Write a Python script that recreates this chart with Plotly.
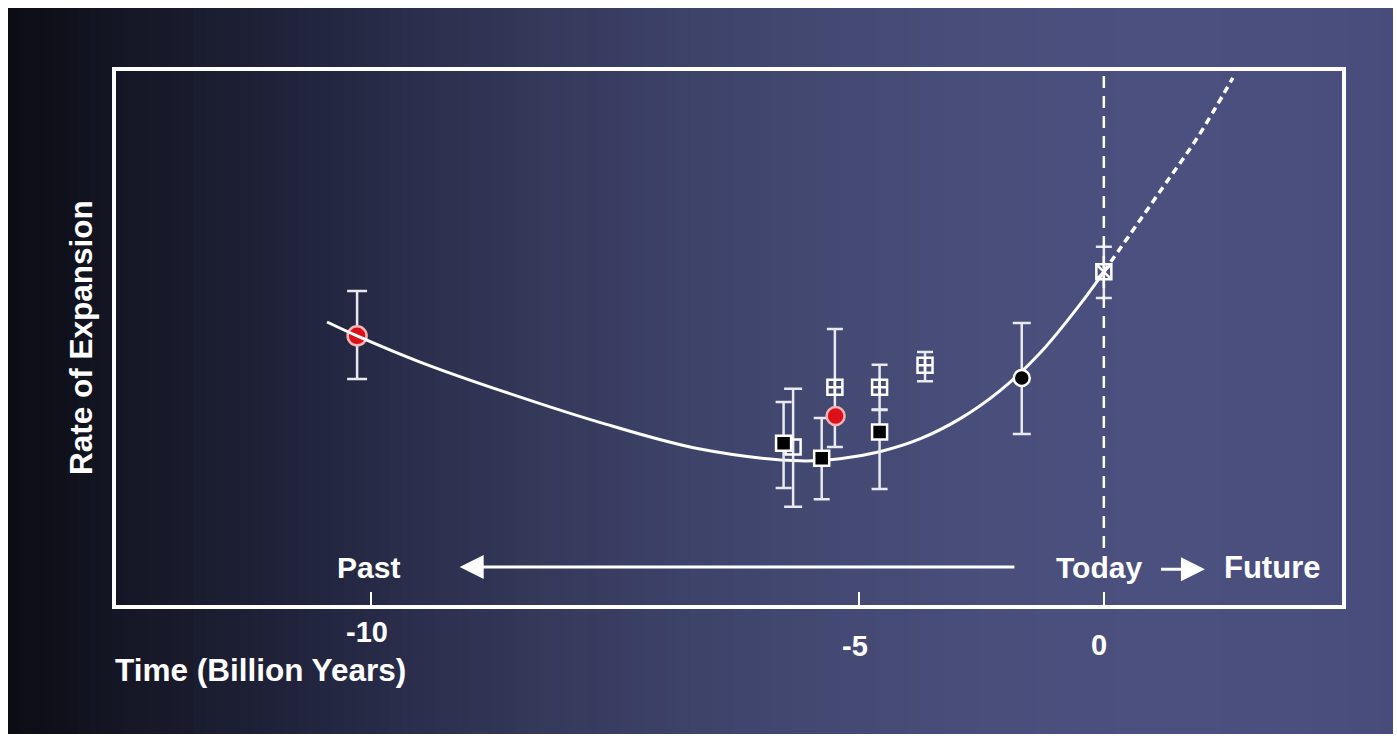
import plotly.graph_objects as go

# ---- data -------------------------------------------------------------
# Horizontal positions are given in the time axis' own units; the tick
# marks for -10, -5 and 0 Gyr sit at tick_pos.
tick_pos = [-10.0, -3.34, 0.0]
tick_text = ["-10", "-5", "0"]

# best-fit expansion history (solid) and its extrapolation into the future (dashed)
curve_t = [-10.60, -10.19, -9.33, -8.24, -6.88, -5.51, -4.15, -3.60, -3.06,
           -2.51, -1.96, -1.42, -0.87, -0.33, 0.0]
curve_rate = [5.30, 5.04, 4.55, 4.02, 3.42, 2.92, 2.70, 2.74, 2.87,
              3.11, 3.49, 4.01, 4.72, 5.62, 6.24]
future_t = [0.0, 0.80, 1.28, 1.76]
future_rate = [6.24, 7.81, 8.76, 9.87]

# measurements, grouped by marker style
red_t = [-10.19, -3.66]
red_rate = [5.04, 3.54]
red_err_hi = [0.84, None]
red_err_lo = [0.81, None]

open_t = [-4.24]
open_rate = [2.96]
open_err_hi = [1.09]
open_err_lo = [1.12]

cross_t = [-3.67, -3.06, -2.44]
cross_rate = [4.08, 4.08, 4.49]
cross_err_hi = [1.09, 0.42, 0.25]
cross_err_lo = [1.12, 0.42, 0.30]

black_sq_t = [-4.37, -3.85, -3.06]
black_sq_rate = [3.03, 2.75, 3.24]
black_sq_err_hi = [0.77, 0.75, 0.41]
black_sq_err_lo = [0.84, 0.77, 1.07]

black_circ_t = [-1.12]
black_circ_rate = [4.25]
black_circ_err_hi = [1.03]
black_circ_err_lo = [1.05]

today_t = [0.0]
today_rate = [6.24]
today_err_hi = [0.47]
today_err_lo = [0.49]

# ---- page geometry ----------------------------------------------------
W, H = 1397, 740
ML, MR, MT, MB = 116, 55, 71, 135
PW, PH = W - ML - MR, H - MT - MB


def px_x(px):
    return (px - ML) / PW


def px_y(py):
    return (H - MB - py) / PH


FONT = "Liberation Sans, Arial, Helvetica, sans-serif"
WHITE = "#ffffff"
BAR = "#e9e9f2"

fig = go.Figure()

# ---- background: dark-to-slate horizontal gradient ---------------------
grad_stops = [
    (0, (11, 12, 19)), (50, (14, 15, 24)), (116, (20, 22, 37)), (200, (26, 28, 47)),
    (300, (33, 36, 60)), (400, (42, 45, 74)), (550, (53, 57, 91)), (700, (62, 67, 106)),
    (850, (69, 74, 116)), (1000, (73, 78, 123)), (1150, (75, 80, 127)), (1300, (74, 79, 126)),
    (1397, (71, 76, 121)),
]


def grad_color(px):
    for (x0, c0), (x1, c1) in zip(grad_stops[:-1], grad_stops[1:]):
        if x0 <= px <= x1:
            f = (px - x0) / (x1 - x0)
            return "rgb(%d,%d,%d)" % tuple(round(a + (b - a) * f) for a, b in zip(c0, c1))
    return "rgb(%d,%d,%d)" % grad_stops[-1][1]


shapes = []
x_left, x_right, y_top, y_bot = 8, 1393, 8, 734
n_strips = 120
step = (x_right - x_left) / n_strips
for i in range(n_strips):
    a = x_left + i * step
    b = a + step + 0.8
    shapes.append(dict(
        type="rect", xref="paper", yref="paper", layer="below",
        x0=px_x(a), x1=px_x(min(b, x_right)), y0=px_y(y_bot), y1=px_y(y_top),
        fillcolor=grad_color(a + step / 2), line=dict(width=0),
    ))

# "today" marker line
shapes.append(dict(
    type="line", xref="x", yref="paper", x0=0, x1=0, y0=px_y(548), y1=1.0,
    line=dict(color=WHITE, width=2.5, dash="12px,8px"), layer="above",
))

# ---- traces ------------------------------------------------------------
def err(hi, lo, w=9):
    return dict(type="data", symmetric=False, array=hi, arrayminus=lo,
                color=BAR, thickness=2.5, width=w)


fig.add_trace(go.Scatter(
    x=red_t[:1], y=red_rate[:1], mode="markers",
    error_y=err(red_err_hi[:1], red_err_lo[:1], 10),
    marker=dict(symbol="circle", size=19, color="#dc1018", line=dict(color="#f2b4b4", width=2.5)),
))

fig.add_trace(go.Scatter(
    x=curve_t, y=curve_rate, mode="lines",
    line=dict(color=WHITE, width=3, shape="spline", smoothing=1.0),
))
fig.add_trace(go.Scatter(
    x=future_t, y=future_rate, mode="lines",
    line=dict(color=WHITE, width=3.5, shape="spline", smoothing=1.0, dash="7px,5px"),
))

fig.add_trace(go.Scatter(
    x=open_t, y=open_rate, mode="markers", error_y=err(open_err_hi, open_err_lo),
    marker=dict(symbol="square-open", size=15, color=WHITE, line=dict(color=WHITE, width=2.5)),
))
fig.add_trace(go.Scatter(
    x=cross_t, y=cross_rate, mode="markers", error_y=err(cross_err_hi, cross_err_lo, 8),
    marker=dict(symbol="square-cross-open", size=15, color=WHITE, line=dict(color=WHITE, width=2.5)),
))
fig.add_trace(go.Scatter(
    x=black_sq_t, y=black_sq_rate, mode="markers", error_y=err(black_sq_err_hi, black_sq_err_lo, 8),
    marker=dict(symbol="square", size=15, color="#000000", line=dict(color=WHITE, width=2.5)),
))
fig.add_trace(go.Scatter(
    x=black_circ_t, y=black_circ_rate, mode="markers", error_y=err(black_circ_err_hi, black_circ_err_lo),
    marker=dict(symbol="circle", size=16, color="#000000", line=dict(color=WHITE, width=2.5)),
))
fig.add_trace(go.Scatter(
    x=today_t, y=today_rate, mode="markers", error_y=err(today_err_hi, today_err_lo, 8),
    marker=dict(symbol="square-x-open", size=15, color=WHITE, line=dict(color=WHITE, width=2.5)),
))
fig.add_trace(go.Scatter(
    x=red_t[1:], y=red_rate[1:], mode="markers",
    marker=dict(symbol="circle", size=18, color="#dc1018", line=dict(color="#f2b4b4", width=2.5)),
))

# ---- text and arrows ----------------------------------------------------
def label(text, x, y, size=30, xref="x", yref="paper", xanchor="center", angle=0):
    return dict(text="<b>%s</b>" % text, x=x, y=y, xref=xref, yref=yref,
                xanchor=xanchor, yanchor="middle", showarrow=False, textangle=angle,
                font=dict(family=FONT, size=size, color=WHITE))


annotations = []
tick_label_y = [px_y(632), px_y(646), px_y(645)]
for pos, txt, ty in zip(tick_pos, tick_text, tick_label_y):
    annotations.append(label(txt, pos - 0.06, ty, size=29))

annotations.append(label("Time (Billion Years)", px_x(113), px_y(670), size=31.5,
                         xref="paper", xanchor="left"))
annotations.append(label("Rate of Expansion", px_x(81), px_y(338), size=31.5,
                         xref="paper", angle=-90))

annotations.append(label("Past", -10.03, px_y(567), size=30))
annotations.append(label("Today", -0.07, px_y(567), size=30))
annotations.append(label("Future", 2.29, px_y(567), size=31))

arrow_y = 0.71
annotations.append(dict(
    x=-8.79, y=arrow_y, ax=-1.20, ay=arrow_y, xref="x", yref="y", axref="x", ayref="y",
    text="", showarrow=True, arrowhead=2, arrowsize=1.6, arrowwidth=3, arrowcolor=WHITE,
))
annotations.append(dict(
    x=1.38, y=0.67, ax=0.76, ay=0.67, xref="x", yref="y", axref="x", ayref="y",
    text="", showarrow=True, arrowhead=2, arrowsize=1.6, arrowwidth=3, arrowcolor=WHITE,
))

fig.update_layout(
    width=W, height=H,
    margin=dict(l=ML, r=MR, t=MT, b=MB, pad=0),
    paper_bgcolor="#ffffff",
    plot_bgcolor="rgba(0,0,0,0)",
    showlegend=False,
    shapes=shapes,
    annotations=annotations,
    xaxis=dict(
        range=[-13.48, 3.25], showgrid=False, zeroline=False,
        showline=True, linecolor=WHITE, linewidth=4, mirror=True,
        ticks="inside", ticklen=13, tickwidth=2, tickcolor=WHITE,
        tickvals=tick_pos, ticktext=tick_text, showticklabels=False,
    ),
    yaxis=dict(
        range=[0, 10], showgrid=False, zeroline=False,
        showline=True, linecolor=WHITE, linewidth=4, mirror=True,
        ticks="", showticklabels=False,
    ),
)

fig.write_html("out.html")
